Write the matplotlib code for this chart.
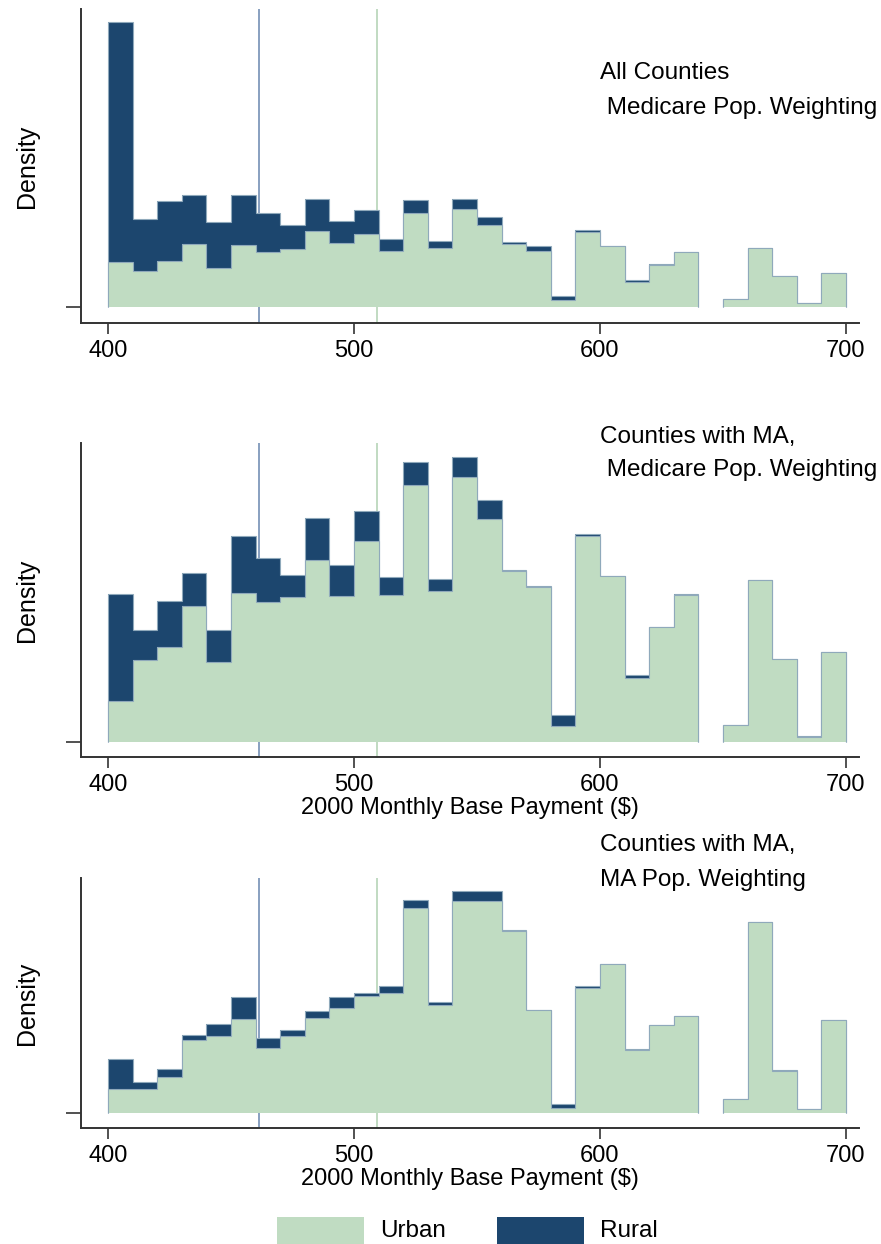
import numpy as np
import matplotlib.pyplot as plt
from matplotlib.patches import Rectangle

plt.rcParams['font.family'] = ['Liberation Sans', 'DejaVu Sans']

# bin edges: 2000 monthly base payment, $10 bins
edges = np.arange(400, 710, 10)

# panel 1: all counties, Medicare pop. weighting (arbitrary density units)
urban_all = [45.3, 36.3, 45.7, 63.0, 39.0, 62.3, 54.7, 58.3, 75.7, 63.7,
             73.3, 56.3, 93.7, 59.3, 97.7, 81.7, 62.7, 56.3, 7.0, 75.0,
             61.0, 24.7, 42.3, 55.0, 0.0, 8.0, 59.0, 31.3, 3.7, 34.0]
rural_all = [239.4, 51.7, 60.3, 49.0, 45.7, 49.7, 39.6, 23.4, 32.3, 22.3,
             23.4, 11.4, 13.6, 6.7, 10.0, 8.0, 2.0, 4.4, 4.3, 1.7,
             0.0, 2.6, 0.7, 0.0, 0.0, 0.0, 0.0, 0.0, 0.6, 0.0]

# panel 2: counties with MA, Medicare pop. weighting
urban_ma = [40.7, 81.7, 94.7, 135.7, 80.0, 148.7, 139.7, 144.7, 182.0, 146.3,
            200.7, 146.7, 257.3, 151.0, 265.0, 222.7, 170.7, 154.7, 15.7, 205.7,
            166.3, 64.3, 114.7, 147.0, 0.0, 17.3, 161.7, 83.0, 5.0, 90.0]
rural_ma = [107.6, 30.6, 46.3, 33.3, 32.3, 57.3, 44.6, 22.0, 42.0, 30.4,
            30.6, 18.0, 23.0, 12.3, 19.7, 19.6, 1.3, 1.6, 11.3, 2.0,
            0.0, 2.4, 0.3, 0.7, 0.0, 0.0, 0.0, 0.0, 0.7, 0.0]

# panel 3: counties with MA, MA pop. weighting
urban_mapop = [24.3, 24.0, 35.7, 72.7, 76.7, 94.3, 65.0, 76.7, 95.0, 105.3,
               116.7, 120.3, 204.7, 108.0, 212.3, 212.3, 181.7, 102.7, 5.0, 125.3,
               148.7, 62.7, 87.7, 96.7, 0.0, 14.0, 190.7, 42.3, 4.0, 92.7]
rural_mapop = [30.0, 7.3, 8.3, 5.6, 12.0, 22.0, 10.0, 6.3, 6.7, 11.0,
               3.3, 7.0, 8.0, 2.7, 9.7, 9.7, 1.0, 0.0, 4.0, 1.7,
               0.0, 1.0, 0.0, 0.0, 0.0, 0.0, 0.0, 0.7, 0.0, 0.0]

titles = [["All Counties", " Medicare Pop. Weighting"],
          ["Counties with MA,", " Medicare Pop. Weighting"],
          ["Counties with MA,", "MA Pop. Weighting"]]
cutoffs = [461.5, 509.5]

urban_col = '#c0dcc2'
rural_col = '#1c466e'
edge_col = '#8fa9bb'


def outline(ax, vals, z):
    # step outline, skipping empty bins so gaps stay blank
    vals = np.asarray(vals)
    nz = vals > 0
    start = None
    for k in range(len(vals) + 1):
        on = k < len(vals) and nz[k]
        if on and start is None:
            start = k
        elif not on and start is not None:
            ax.stairs(vals[start:k], edges[start:k + 1], color=edge_col, lw=0.8, zorder=z)
            start = None


W, H = 881, 1244
fig = plt.figure(figsize=(W / 100, H / 100), dpi=100)

# pixel boxes: (top, bottom spine, baseline)
boxes = [(9, 323, 307), (443, 757, 742), (878, 1128, 1113)]
left_px, right_px = 81, 859
ytop = [298, 299, 235]
text_y = [(73, 108), (437, 470), (845, 880)]

panels = [(urban_all, rural_all), (urban_ma, rural_ma), (urban_mapop, rural_mapop)]

for i, (urban, rural) in enumerate(panels):
    top, bot, base = boxes[i]
    ax = fig.add_axes([left_px / W, 1 - bot / H, (right_px - left_px) / W, (bot - top) / H])
    total = np.array(urban) + np.array(rural)
    scale = ytop[i] / (base - top)
    ax.set_ylim(-(bot - base) * scale, ytop[i])
    ax.set_xlim(389, 705.3)

    ax.axvline(cutoffs[0], color='#7f99bb', lw=1.3, zorder=1)
    ax.axvline(cutoffs[1], color='#bcd8bd', lw=1.3, zorder=1)

    ax.bar(edges[:-1], total, width=10, align='edge', color=rural_col,
           linewidth=0, zorder=2)
    outline(ax, total, 2.5)
    ax.bar(edges[:-1], urban, width=10, align='edge', color=urban_col,
           linewidth=0, zorder=3)
    outline(ax, urban, 3.5)

    for s in ['top', 'right']:
        ax.spines[s].set_visible(False)
    for s in ['left', 'bottom']:
        ax.spines[s].set_color('#333333')
        ax.spines[s].set_linewidth(1.4)
    ax.set_xticks([400, 500, 600, 700])
    ax.set_yticks([0])
    ax.set_yticklabels([''])
    ax.tick_params(axis='x', labelsize=17, length=8, width=1.2, color='#333333', pad=4)
    ax.tick_params(axis='y', length=11, width=1.2, color='#333333')
    ax.set_ylabel('Density', fontsize=18, labelpad=16)
    if i > 0:
        ax.set_xlabel('2000 Monthly Base Payment ($)', fontsize=17, labelpad=1)

    for txt, ty in zip(titles[i], text_y[i]):
        fig.text(600 / W, 1 - ty / H, txt, fontsize=17.5, ha='left', va='center')

# legend drawn at the bottom edge of the figure
legend_items = [('Urban', urban_col, 277, 380), ('Rural', rural_col, 497, 600)]
for label, col, px, tx in legend_items:
    fig.add_artist(Rectangle((px / W, 0), 87 / W, (H - 1217) / H,
                             transform=fig.transFigure, facecolor=col, edgecolor='none'))
    fig.text(tx / W, 1 - 1231 / H, label, fontsize=17.5, ha='left', va='center')

fig.savefig('out.png', dpi=100)
